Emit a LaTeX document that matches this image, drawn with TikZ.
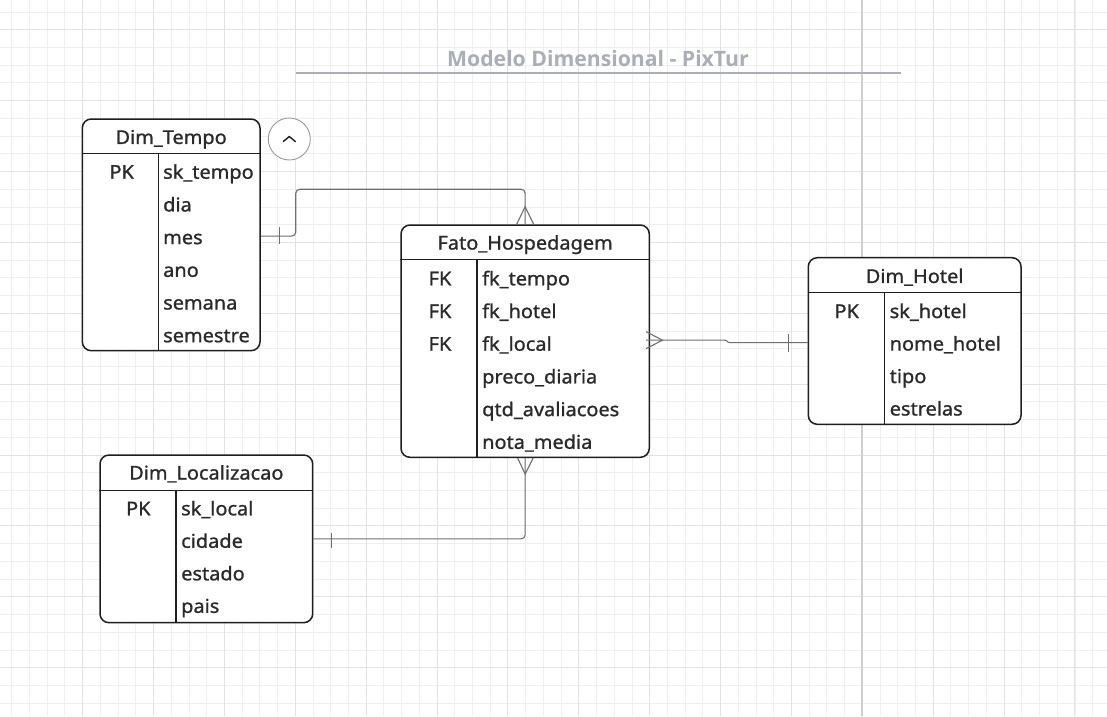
\documentclass[tikz,border=0pt]{standalone}
\usepackage{fontspec}
\setmainfont{Noto Sans}
\newfontfamily\bodyfont{Noto Sans}[FakeBold=1, FakeStretch=1.05]
\newfontfamily\titlefont{Open Sans}
\usetikzlibrary{calc}
\definecolor{gridminor}{HTML}{EFEFEF}
\definecolor{gridmajor}{HTML}{E2E2E2}
\definecolor{pagebrk}{HTML}{CFCFCF}
\definecolor{ink}{HTML}{1E1E1E}
\definecolor{txt}{HTML}{2A2A2A}
\definecolor{conncol}{HTML}{6E6E6E}
\definecolor{titlecol}{HTML}{A9AEB7}
\definecolor{btn}{HTML}{9A9A9A}
\tikzset{
  tbl/.style={draw=ink, line width=1.5pt, rounded corners=9pt, fill=white, inner sep=0pt},
  sepline/.style={draw=ink, line width=1.5pt},
  hdr/.style={font=\bodyfont\fontsize{19}{21}\selectfont, text=txt, inner sep=0pt, text height=14pt, text depth=0pt},
  keytxt/.style={hdr},
  fld/.style={hdr, anchor=west},
  conn/.style={draw=conncol, line width=1.1pt, rounded corners=4pt},
  notation/.style={draw=conncol, line width=1.1pt},
  gminor/.style={draw=gridminor, line width=0.8pt},
  gmajor/.style={draw=gridmajor, line width=0.9pt},
}
\begin{document}
\begin{tikzpicture}[x=1pt, y=-1pt]
\useasboundingbox (0,0) rectangle (1107,716);
\fill[white] (0,0) rectangle (1107,716);
% grid
\foreach \i in {0,...,61} {\draw[gminor] ({11.7+17.72*\i},0) -- ({11.7+17.72*\i},716);}
\foreach \j in {0,...,39} {\draw[gminor] (0,{12+17.72*\j}) -- (1107,{12+17.72*\j});}
\foreach \i in {4,8,...,60} {\draw[gmajor] ({11.7+17.72*\i},0) -- ({11.7+17.72*\i},716);}
\foreach \j in {1,5,...,37} {\draw[gmajor] (0,{12+17.72*\j}) -- (1107,{12+17.72*\j});}
\draw[draw=pagebrk, line width=1.5pt] (862,0) -- (862,716);

% title
\node[font=\titlefont\bfseries\fontsize{21.2}{23}\selectfont, text=titlecol, inner sep=0pt, text height=15pt, text depth=0pt] (title) at (598,58.5) {Modelo Dimensional - PixTur};
\coordinate (tl) at (296,72.7);
\coordinate (tr) at (900.7,72.7);
\draw[draw=titlecol, line width=2pt] (tl) -- (tr);

% Dim_Tempo
\node[tbl, minimum width=177.7pt, minimum height=231.7pt] (tempo) at (171.15,234.85) {};
\draw[sepline] ($(tempo.north west)+(0,35)$) -- ($(tempo.north east)+(0,35)$);
\draw[sepline] ($(tempo.north west)+(76.7,35)$) -- ($(tempo.south west)+(76.7,0)$);
\node[hdr] (tempoT) at ($(tempo.north)+(0,18.7)$) {Dim\_Tempo};
\node[keytxt] (tempoK) at (121.7,171.7) {PK};
\foreach \t [count=\i] in {sk\_tempo,dia,mes,ano,semana,semestre}
  {\node[fld] (tempoF\i) at (163,{171.7+32.7*(\i-1)}) {\t};}

% toggle button
\node[circle, draw=btn, line width=0.9pt, fill=white, minimum size=42pt, inner sep=0pt] (toggle) at (289.3,139) {};
\draw[draw=ink, line width=1.4pt, line cap=round, line join=round]
  ($(toggle.center)+(-6,2.5)$) -- ($(toggle.center)+(0,-2.5)$) -- ($(toggle.center)+(6,2.5)$);

% Fato_Hospedagem
\node[tbl, minimum width=248.3pt, minimum height=232.3pt] (fato) at (525.15,341.15) {};
\draw[sepline] ($(fato.north west)+(0,35)$) -- ($(fato.north east)+(0,35)$);
\draw[sepline] ($(fato.north west)+(76.7,35)$) -- ($(fato.south west)+(76.7,0)$);
\node[hdr] (fatoT) at ($(fato.north)+(0,18.3)$) {Fato\_Hospedagem};
\foreach \i in {1,2,3}
  {\node[keytxt] (fatoK\i) at (440,{278.3+32.7*(\i-1)}) {FK};}
\foreach \t [count=\i] in {fk\_tempo,fk\_hotel,fk\_local,preco\_diaria,qtd\_avaliacoes,nota\_media}
  {\node[fld] (fatoF\i) at (482,{278.3+32.7*(\i-1)}) {\t};}

% Dim_Hotel
\node[tbl, minimum width=212.7pt, minimum height=166.6pt] (hotel) at (914.65,341) {};
\draw[sepline] ($(hotel.north west)+(0,35.6)$) -- ($(hotel.north east)+(0,35.6)$);
\draw[sepline] ($(hotel.north west)+(76.7,35.6)$) -- ($(hotel.south west)+(76.7,0)$);
\node[hdr] (hotelT) at ($(hotel.north)+(0,19)$) {Dim\_Hotel};
\node[keytxt] (hotelK) at (846.7,311) {PK};
\foreach \t [count=\i] in {sk\_hotel,nome\_hotel,tipo,estrelas}
  {\node[fld] (hotelF\i) at (889.5,{311+32.5*(\i-1)}) {\t};}

% Dim_Localizacao
\node[tbl, minimum width=212.7pt, minimum height=167.7pt] (loc) at (206.35,538.85) {};
\draw[sepline] ($(loc.north west)+(0,36)$) -- ($(loc.north east)+(0,36)$);
\draw[sepline] ($(loc.north west)+(76.7,36)$) -- ($(loc.south west)+(76.7,0)$);
\node[hdr] (locT) at ($(loc.north)+(0,18.3)$) {Dim\_Localizacao};
\node[keytxt] (locK) at (138.3,508.3) {PK};
\foreach \t [count=\i] in {sk\_local,cidade,estado,pais}
  {\node[fld] (locF\i) at (181,{508.3+32.5*(\i-1)}) {\t};}

% connector Dim_Tempo -> Fato_Hospedagem
\draw[conn] ($(tempo.east)+(0,1.2)$) -- ++(35,0) -- ++(0,-46.8) -| (fato.north);
\draw[notation] ($(tempo.east)+(18.3,-7.8)$) -- ($(tempo.east)+(18.3,9.5)$);
\draw[notation] ($(fato.north)+(-8.5,0)$) -- ($(fato.north)+(0,-17.5)$) -- ($(fato.north)+(8.5,0)$);

% connector Fato_Hospedagem -> Dim_Hotel
\draw[conn, rounded corners=1pt] ($(fato.east)+(-4,-1)$) -- ++(80,0) -- ++(2.5,2.5) -- ($(hotel.west)+(0,1.6)$);
\draw[notation] ($(fato.east)+(-4,-9.5)$) -- ($(fato.east)+(12.4,-1)$) -- ($(fato.east)+(-4,7.5)$);
\draw[notation] ($(hotel.west)+(-19,-7)$) -- ($(hotel.west)+(-19,10.7)$);

% connector Fato_Hospedagem -> Dim_Localizacao
\draw[conn] (fato.south) |- (loc.east);
\draw[notation] ($(fato.south)+(-7.5,0)$) -- ($(fato.south)+(0,16)$) -- ($(fato.south)+(8,0)$);
\draw[notation] ($(loc.east)+(18.3,-6.2)$) -- ($(loc.east)+(18.3,9.5)$);
\end{tikzpicture}
\end{document}
